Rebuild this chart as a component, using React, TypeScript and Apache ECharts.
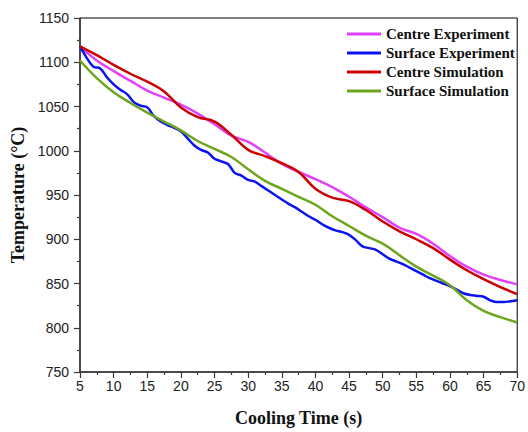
import React, { useEffect, useRef } from "react";
import * as echarts from "echarts";

const seriesNames = ["Centre Experiment", "Surface Experiment", "Centre Simulation", "Surface Simulation"];
const seriesColors = ["#E040F8", "#0A14F0", "#CC0000", "#6EA51F"];

const coarseTime = [5, 7.5, 10, 12.5, 15, 17.5, 20, 22.5, 25, 27.5, 30, 32.5, 35, 37.5, 40, 42.5, 45, 47.5, 50, 52.5, 55, 57.5, 60, 62.5, 65, 67.5, 70];
const centreExperiment = [1118, 1102, 1090, 1079, 1068, 1060, 1052, 1042, 1030, 1017, 1010, 998, 985, 976, 968, 959, 948, 936, 925, 913, 906, 895, 881, 869, 860, 854, 849];
const centreSimulation = [1118, 1108, 1097, 1087, 1078, 1067, 1049, 1038, 1033, 1018, 1001, 994, 986, 976, 957, 947, 943, 933, 920, 909, 900, 890, 877, 865, 855, 846, 838];
const surfaceSimulation = [1102, 1082, 1066, 1054, 1043, 1033, 1023, 1011, 1002, 993, 979, 966, 957, 948, 939, 926, 915, 904, 895, 882, 869, 859, 848, 831, 819, 812, 806];

const fineTime = [5, 6, 7, 8, 9, 10, 11, 12, 13, 14, 15, 16, 17, 18, 19, 20, 21, 22, 23, 24, 25, 26, 27, 28, 29, 30, 31, 32, 33, 34, 35, 36, 37, 38, 39, 40, 41, 42, 43, 44, 45, 46, 47, 48, 49, 50, 51, 52, 53, 54, 55, 56, 57, 58, 59, 60, 61, 62, 63, 64, 65, 66, 67, 68, 69, 70];
const surfaceExperiment = [1118, 1105, 1095, 1093, 1083, 1075, 1069, 1064, 1055, 1051, 1049, 1039, 1033, 1029, 1026, 1022, 1014, 1006, 1001, 998, 991, 988, 985, 975, 972, 967, 965, 960, 955, 950, 945, 940, 936, 931, 926, 922, 917, 913, 910, 908, 905, 899, 892, 890, 888, 883, 878, 875, 872, 868, 864, 860, 856, 853, 850, 847, 843, 839, 837, 836, 835, 831, 829, 829, 830, 831];

const xTicks = { min: 5, max: 70, interval: 5 };
const yTicks = { min: 750, max: 1150, interval: 50 };

const xTitle = "Cooling Time (s)";
const yTitle = "Temperature (°C)";

function pairs(t: number[], v: number[]) {
  return t.map((x, i) => [x, v[i]]);
}

export default function App() {
  const ref = useRef<HTMLDivElement>(null);
  useEffect(() => {
    if (!ref.current) return;
    const chart = echarts.init(ref.current, undefined, { renderer: "svg" });
    const sans = "'Liberation Sans', Arial, sans-serif";
    const serif = "'Liberation Serif', 'Times New Roman', serif";
    const dataSets = [
      pairs(coarseTime, centreExperiment),
      pairs(fineTime, surfaceExperiment),
      pairs(coarseTime, centreSimulation),
      pairs(coarseTime, surfaceSimulation),
    ];
    const axisCommon = {
      axisLine: { show: true, lineStyle: { color: "#3a3a3a", width: 1.5 } },
      axisTick: { show: true, inside: false, length: 6, lineStyle: { color: "#3a3a3a", width: 1.2 } },
      minorTick: { show: true, splitNumber: 2, length: 3, lineStyle: { color: "#3a3a3a", width: 1.2 } },
      splitLine: { show: false },
      nameLocation: "middle" as const,
      nameTextStyle: { fontFamily: serif, fontWeight: "bold" as const, fontSize: 18, color: "#111" },
    };
    const plain = (v: number) => String(v);
    chart.setOption({
      animation: false,
      backgroundColor: "#fff",
      grid: { left: 80, right: 7, top: 18, bottom: 56, show: true, borderColor: "#000", borderWidth: 1, containLabel: false },
      legend: {
        orient: "vertical",
        left: 347,
        top: 26,
        padding: 0,
        itemGap: 3,
        itemWidth: 34,
        itemHeight: 3,
        icon: "rect",
        data: seriesNames,
        textStyle: { fontFamily: serif, fontWeight: "bold", fontSize: 15, color: "#111", lineHeight: 16 },
      },
      xAxis: {
        type: "value",
        ...xTicks,
        ...axisCommon,
        name: xTitle,
        nameGap: 37,
        axisLabel: { fontFamily: sans, fontSize: 14, color: "#222", margin: 7, formatter: plain },
      },
      yAxis: {
        type: "value",
        ...yTicks,
        ...axisCommon,
        name: yTitle,
        nameGap: 50,
        axisLabel: { fontFamily: sans, fontSize: 14, color: "#222", margin: 11, formatter: plain },
      },
      series: seriesNames.map((name, i) => ({
        name,
        type: "line",
        data: dataSets[i],
        smooth: 0.4,
        showSymbol: false,
        symbol: "none",
        lineStyle: { color: seriesColors[i], width: 2.5 },
        itemStyle: { color: seriesColors[i] },
        z: 2 + i,
      })),
    });
    return () => chart.dispose();
  }, []);
  return <div ref={ref} style={{ position: "fixed", left: 0, top: 0, width: 528, height: 432 }} />;
}
